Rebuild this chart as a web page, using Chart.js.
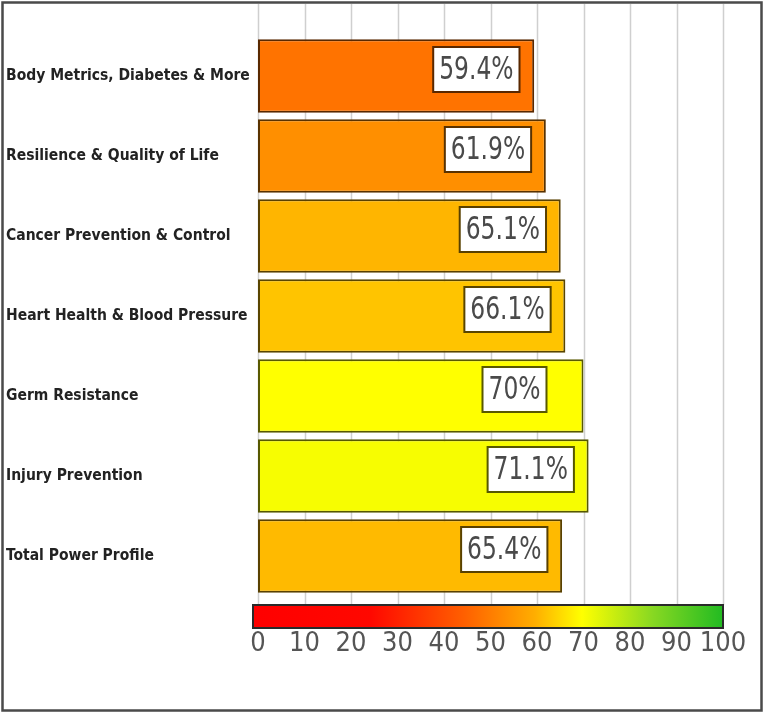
<!DOCTYPE html>
<html>
<head>
<meta charset="utf-8">
<title>Power Profile</title>
<script src="https://cdn.jsdelivr.net/npm/chart.js@4.4.1/dist/chart.umd.min.js"></script>
<style>
  html, body { margin: 0; padding: 0; background: #fff; }
</style>
</head>
<body>
<canvas id="myChart" width="763" height="713"></canvas>
<script>
var categories = [
    "Body Metrics, Diabetes & More",
    "Resilience & Quality of Life",
    "Cancer Prevention & Control",
    "Heart Health & Blood Pressure",
    "Germ Resistance",
    "Injury Prevention",
    "Total Power Profile"
];
var scores = [59.4, 61.9, 65.1, 66.1, 70, 71.1, 65.4];
var scaleTicks = [0, 10, 20, 30, 40, 50, 60, 70, 80, 90, 100];

var condensed = '"DejaVu Sans Condensed", "Liberation Sans", Arial, sans-serif';

// red -> orange -> yellow -> green, used for bar fills
var colourStops = [
    [0, [255, 0, 0]],
    [50, [255, 40, 0]],
    [60, [255, 120, 0]],
    [65, [255, 180, 0]],
    [70, [255, 255, 0]],
    [100, [34, 187, 34]]
];

function scoreColour(v, k) {
    k = k || 1;
    var a = colourStops[0], b = colourStops[colourStops.length - 1];
    for (var i = 0; i < colourStops.length - 1; i++) {
        if (v >= colourStops[i][0] && v <= colourStops[i + 1][0]) {
            a = colourStops[i]; b = colourStops[i + 1]; break;
        }
    }
    var t = b[0] === a[0] ? 0 : (v - a[0]) / (b[0] - a[0]);
    var c = [0, 1, 2].map(function (j) {
        return Math.round((a[1][j] + (b[1][j] - a[1][j]) * t) * k);
    });
    return 'rgb(' + c.join(',') + ')';
}

var decorations = {
    id: 'decorations',
    beforeDatasetsDraw: function (chart) {
        var ctx = chart.ctx, x = chart.scales.x, area = chart.chartArea;
        ctx.save();
        // vertical grid lines run from the top edge down to the colour key
        ctx.strokeStyle = '#cfcfcf';
        ctx.lineWidth = 1.5;
        scaleTicks.forEach(function (t) {
            var px = Math.round(x.getPixelForValue(t)) + 0.5;
            ctx.beginPath();
            ctx.moveTo(px, 4);
            ctx.lineTo(px, area.bottom + 9);
            ctx.stroke();
        });

        // colour key under the bars
        var left = x.getPixelForValue(0) - 5;
        var right = x.getPixelForValue(100);
        var top = area.bottom + 9, h = 23;
        var g = ctx.createLinearGradient(left, 0, right, 0);
        g.addColorStop(0, '#ff0000');
        g.addColorStop(0.25, '#ff0800');
        g.addColorStop(0.45, '#ff6000');
        g.addColorStop(0.6, '#ffae00');
        g.addColorStop(0.7, '#ffff00');
        g.addColorStop(0.85, '#88d822');
        g.addColorStop(1, '#22bb22');
        ctx.fillStyle = g;
        ctx.fillRect(left, top, right - left, h);
        ctx.strokeStyle = '#2a2a2a';
        ctx.lineWidth = 2;
        ctx.strokeRect(left, top, right - left, h);
        ctx.restore();
    },
    afterDatasetsDraw: function (chart) {
        var ctx = chart.ctx;
        var bars = chart.getDatasetMeta(0).data;
        ctx.save();
        ctx.font = '26px ' + condensed;
        ctx.textBaseline = 'middle';
        bars.forEach(function (bar, i) {
            var text = scores[i] + '%';
            var w = ctx.measureText(text).width + 12;
            var bx = bar.x - 101, by = bar.y - 29, bh = 45;
            ctx.fillStyle = '#ffffff';
            ctx.fillRect(bx, by, w, bh);
            ctx.strokeStyle = scoreColour(scores[i], 0.35);
            ctx.lineWidth = 2;
            ctx.strokeRect(bx, by, w, bh);
            // digits are drawn a little taller than the font's natural shape
            ctx.save();
            ctx.translate(bx + 6, by + bh / 2 + 1);
            ctx.scale(1, 1.2);
            ctx.fillStyle = '#4a4a4a';
            ctx.fillText(text, 0, 0);
            ctx.restore();
        });
        ctx.restore();
    },
    afterDraw: function (chart) {
        var ctx = chart.ctx;
        ctx.save();
        ctx.strokeStyle = '#4a4a4a';
        ctx.lineWidth = 2.5;
        ctx.strokeRect(2.5, 2.5, chart.width - 4, chart.height - 5);
        ctx.restore();
    }
};

var ctx = document.getElementById("myChart");
var myChart = new Chart(ctx, {
    type: 'bar',
    data: {
        labels: categories,
        datasets: [{
            data: scores,
            backgroundColor: scores.map(function (v) { return scoreColour(v); }),
            borderColor: scores.map(function (v) { return scoreColour(v, 0.35); }),
            borderWidth: 2,
            borderSkipped: false,
            barPercentage: 0.92,
            categoryPercentage: 1
        }]
    },
    options: {
        indexAxis: 'y',
        responsive: false,
        animation: false,
        layout: { padding: { top: 36, left: 6, right: 40, bottom: 0 } },
        plugins: {
            legend: { display: false },
            tooltip: { enabled: false }
        },
        scales: {
            x: {
                min: 0,
                max: 100,
                grid: { display: false, drawTicks: false },
                border: { display: false },
                ticks: {
                    stepSize: 10,
                    autoSkip: false,
                    maxRotation: 0,
                    minRotation: 0,
                    padding: 32,
                    color: '#555',
                    font: { family: condensed, size: 27 }
                },
                afterFit: function (s) {
                    s.height = 117;
                    // let the end labels hang into the side margins
                    s.paddingLeft = 0;
                    s.paddingRight = 0;
                }
            },
            y: {
                grid: { display: false, drawTicks: false },
                border: { display: false },
                ticks: {
                    crossAlign: 'far',
                    padding: 0,
                    color: '#222',
                    font: { family: condensed, size: 15.5, weight: 'bold' }
                },
                afterFit: function (s) { s.width = 252; }
            }
        }
    },
    plugins: [decorations]
});
</script>
</body>
</html>
